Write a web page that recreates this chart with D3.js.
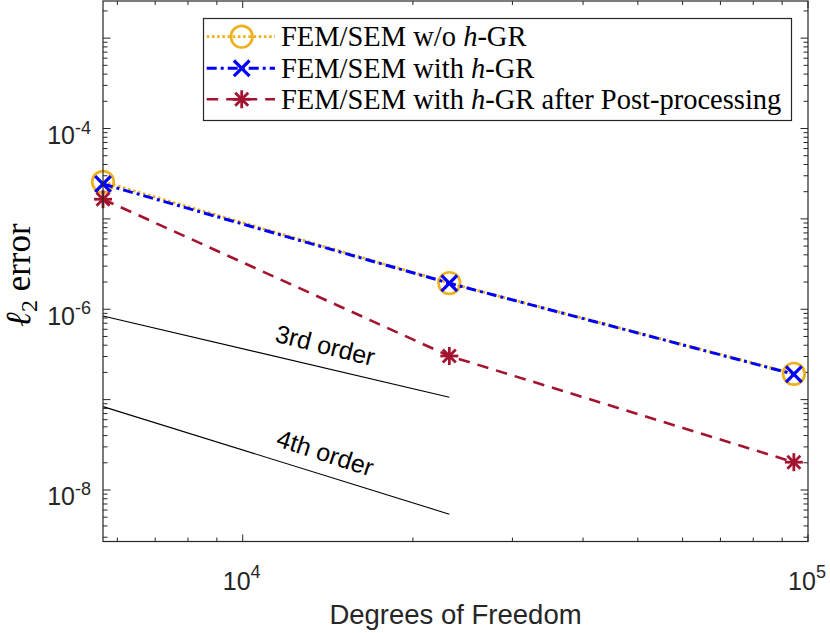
<!DOCTYPE html>
<html><head><meta charset="utf-8">
<script src="https://cdn.jsdelivr.net/npm/d3@7"></script>
<style>body{margin:0;background:#fff}svg{display:block}</style>
</head><body>
<svg id="chart" width="830" height="633"></svg>
<script>
// ---- data ----
const dof = [5660, 23200, 94400];
const errNoGR = [2.57e-5, 1.95e-6, 1.93e-7];
const errGR = [2.43e-5, 1.94e-6, 1.91e-7];
const errPost = [1.65e-5, 3.04e-7, 2.03e-8];
const refDof = [5660, 23200];
const ref3rd = [8.43e-7, 1.06e-7];
const ref4th = [8.37e-8, 5.4e-9];
const refLabels = ["3rd order", "4th order"];
const refLabelX = [14000, 14000];
const refLabelY = [4.02e-7, 2.59e-8];
const xDomain = [5660, 1e5];
const yDomain = [Math.pow(10, -8.57), Math.pow(10, -2.589)];
const xTickExps = [4, 5];
const yTickExps = [-8, -6, -4];
const legendLabels = [
  [["FEM/SEM w/o ", false], ["h", true], ["-GR", false]],
  [["FEM/SEM with ", false], ["h", true], ["-GR", false]],
  [["FEM/SEM with ", false], ["h", true], ["-GR after Post-processing", false]]
];
const xLabel = "Degrees of Freedom";

// ---- layout ----
const L = 103, R = 808, T = 1, B = 541.5;
const axisColor = "#262626";
const svg = d3.select("#chart");
const x = d3.scaleLog().domain(xDomain).range([L, R]);
const y = d3.scaleLog().domain(yDomain).range([B, T]);

const series = [
  {vals: errNoGR, color: "#EDB120", width: 2.8, dash: "2.6,2.6", marker: "circle"},
  {vals: errGR, color: "#0000FF", width: 3, dash: "10,4,3,4", marker: "x"},
  {vals: errPost, color: "#A2142F", width: 2.6, dash: "11.5,8", marker: "star"}
];

function drawMarker(g, type, cx, cy, color) {
  if (type === "circle") {
    g.append("circle").attr("cx", cx).attr("cy", cy).attr("r", 10.8)
      .attr("fill", "none").attr("stroke", color).attr("stroke-width", 2.7);
  } else if (type === "x") {
    const s = 7.8;
    [[-s,-s,s,s],[-s,s,s,-s]].forEach(p => g.append("line")
      .attr("x1", cx+p[0]).attr("y1", cy+p[1]).attr("x2", cx+p[2]).attr("y2", cy+p[3])
      .attr("stroke", color).attr("stroke-width", 3.2));
  } else {
    const s = 9, d = 6.5;
    [[0,-s,0,s],[-s,0,s,0],[-d,-d,d,d],[-d,d,d,-d]].forEach(p => g.append("line")
      .attr("x1", cx+p[0]).attr("y1", cy+p[1]).attr("x2", cx+p[2]).attr("y2", cy+p[3])
      .attr("stroke", color).attr("stroke-width", 2.8));
  }
}

// plot background
svg.append("rect").attr("x", L).attr("y", T).attr("width", R-L).attr("height", B-T).attr("fill", "#fff");

// ticks (inside, mirrored on all sides)
const isMajor = v => Math.abs(Math.log10(v) - Math.round(Math.log10(v))) < 1e-9;
const tg = svg.append("g").attr("stroke", axisColor).attr("stroke-width", 1);
x.ticks().forEach(v => {
  const px = x(v), len = isMajor(v) ? 7 : 4;
  tg.append("line").attr("x1", px).attr("x2", px).attr("y1", B).attr("y2", B-len);
  tg.append("line").attr("x1", px).attr("x2", px).attr("y1", T).attr("y2", T+len);
});
y.ticks().forEach(v => {
  const py = y(v), len = isMajor(v) ? 7.5 : 4.5;
  tg.append("line").attr("y1", py).attr("y2", py).attr("x1", L).attr("x2", L+len);
  tg.append("line").attr("y1", py).attr("y2", py).attr("x1", R).attr("x2", R-len);
});

// reference slope lines
const line = d3.line().x(d => x(d[0])).y(d => y(d[1]));
[ref3rd, ref4th].forEach((ref, i) => {
  const pts = refDof.map((d, j) => [d, ref[j]]);
  svg.append("path").attr("d", line(pts)).attr("fill", "none").attr("stroke", "#000").attr("stroke-width", 1.1);
  const ang = Math.atan2(y(ref[1]) - y(ref[0]), x(refDof[1]) - x(refDof[0])) * 180 / Math.PI + 0.8;
  const lx = x(refLabelX[i]), ly = y(refLabelY[i]);
  svg.append("text").attr("x", lx).attr("y", ly)
    .attr("transform", `rotate(${ang},${lx},${ly})`)
    .attr("text-anchor", "middle").attr("dominant-baseline", "central")
    .attr("font-family", "Liberation Sans, Arial, sans-serif").attr("font-size", 25)
    .attr("fill", "#000").text(refLabels[i]);
});

// data series
series.forEach(s => {
  const pts = dof.map((d, j) => [d, s.vals[j]]);
  svg.append("path").attr("d", line(pts)).attr("fill", "none")
    .attr("stroke", s.color).attr("stroke-width", s.width).attr("stroke-dasharray", s.dash);
  const g = svg.append("g");
  pts.forEach(p => drawMarker(g, s.marker, x(p[0]), y(p[1]), s.color));
});

// axes box
svg.append("rect").attr("x", L).attr("y", T).attr("width", R-L).attr("height", B-T)
  .attr("fill", "none").attr("stroke", axisColor).attr("stroke-width", 1.2);

// tick labels
const tickFont = "Liberation Sans, Arial, sans-serif";
xTickExps.forEach(e => {
  const t = svg.append("text").attr("x", x(Math.pow(10, e)) - 1).attr("y", 589.5)
    .attr("text-anchor", "middle").attr("font-family", tickFont).attr("font-size", 25).attr("fill", axisColor);
  t.append("tspan").text("10");
  t.append("tspan").attr("dy", -12).attr("font-size", 18).text(e);
});
yTickExps.forEach(e => {
  const t = svg.append("text").attr("x", 91).attr("y", y(Math.pow(10, e)) + 15.5)
    .attr("text-anchor", "end").attr("font-family", tickFont).attr("font-size", 25).attr("fill", axisColor);
  t.append("tspan").text("10");
  t.append("tspan").attr("dy", -10.5).attr("font-size", 18).text(e);
});

// axis labels
svg.append("text").attr("x", (L + R) / 2).attr("y", 624).attr("text-anchor", "middle")
  .attr("font-family", tickFont).attr("font-size", 27.5).attr("fill", axisColor).text(xLabel);
const yl = svg.append("text").attr("transform", "translate(30,275) rotate(-90)")
  .attr("text-anchor", "middle").attr("font-family", "Liberation Serif, DejaVu Serif, serif")
  .attr("font-size", 35).attr("fill", "#000");
yl.append("tspan").attr("font-style", "italic").text("\u2113");
yl.append("tspan").attr("font-size", 24).attr("dy", 7).text("2");
yl.append("tspan").attr("dy", -7).text(" error");

// legend
const lg = svg.append("g");
const lgX = 203.5, lgY = 18.5, lgW = 588, lgH = 102;
lg.append("rect").attr("x", lgX).attr("y", lgY).attr("width", lgW).attr("height", lgH)
  .attr("fill", "#fff").attr("stroke", axisColor).attr("stroke-width", 1.2);
const rowY = [36.7, 68.3, 99.3];
series.forEach((s, i) => {
  const ry = rowY[i];
  lg.append("line").attr("x1", 206.7).attr("x2", 275).attr("y1", ry).attr("y2", ry)
    .attr("stroke", s.color).attr("stroke-width", s.width).attr("stroke-dasharray", s.dash);
  drawMarker(lg, s.marker, 241.7, ry, s.color);
  const t = lg.append("text").attr("x", 281).attr("y", ry + 9.5)
    .attr("font-family", "Liberation Serif, DejaVu Serif, serif").attr("font-size", 28.5).attr("fill", "#000");
  legendLabels[i].forEach(p => t.append("tspan").attr("font-style", p[1] ? "italic" : null).text(p[0]));
});
</script>
</body></html>
